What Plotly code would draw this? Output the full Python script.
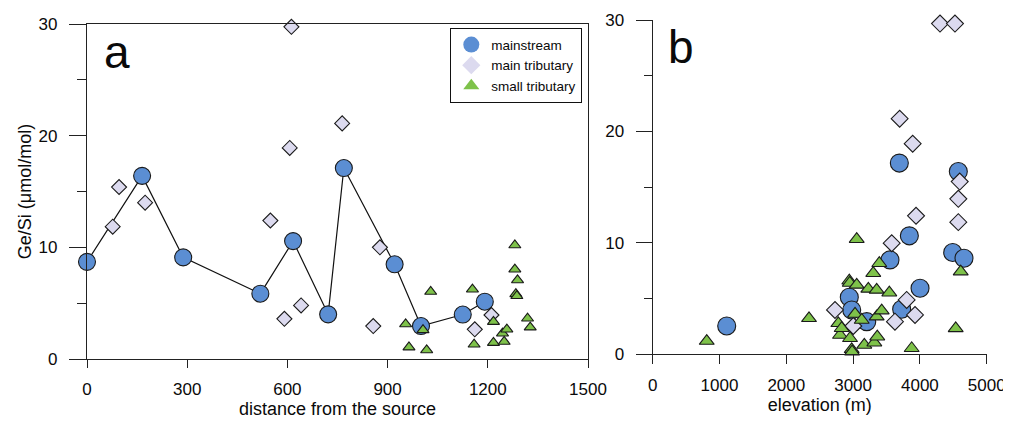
import plotly.graph_objects as go

# ---------------- panel a: distance from the source ----------------
main_dist = [0, 165, 288, 519, 617, 722, 769, 921, 1000, 1125, 1191]
main_ratio = [8.7, 16.4, 9.1, 5.85, 10.56, 4.0, 17.1, 8.48, 2.95, 3.98, 5.13]

trib_dist = [77, 96, 174, 549, 591, 607, 612, 641, 764, 857, 877, 1161, 1211]
trib_ratio = [11.85, 15.4, 14.0, 12.4, 3.6, 18.9, 29.75, 4.8, 21.1, 2.95, 10.0, 2.66, 3.94]

small_dist = [954, 964, 1006, 1017, 1029, 1154, 1159, 1217, 1217, 1244, 1249, 1257,
              1281, 1281, 1289, 1284, 1287, 1319, 1327]
small_ratio = [3.13, 1.05, 2.6, 0.8, 6.03, 6.24, 1.31, 3.34, 1.46, 2.3, 1.55, 2.66,
               10.2, 8.03, 7.07, 5.82, 5.65, 3.64, 2.84]

# ---------------- panel b: elevation ----------------
main_elev = [1108, 2943, 2979, 3204, 3552, 3692, 3727, 3842, 4002, 4491, 4575, 4660]
main_ratio_b = [2.54, 5.12, 3.98, 2.93, 8.47, 17.16, 4.04, 10.63, 5.93, 9.13, 16.4, 8.62]

trib_elev = [2729, 3003, 3578, 3627, 3697, 3802, 3892, 3927, 3942, 4301, 4525, 4575, 4575, 4596]
trib_ratio_b = [3.98, 2.54, 9.97, 2.93, 21.14, 4.88, 18.9, 3.53, 12.43, 29.68, 29.68, 13.95, 11.86, 15.5]

small_elev = [809, 2340, 2779, 2804, 2829, 2943, 2950, 2954, 2979, 2985, 3029, 3054, 3054,
              3129, 3168, 3228, 3302, 3318, 3353, 3353, 3362, 3392, 3428, 3542, 3877, 4536, 4611]
small_ratio_b = [1.19, 3.23, 2.78, 1.73, 2.34, 6.6, 6.4, 1.44, 0.45, 0.24, 3.62, 10.33, 6.23,
                 3.08, 0.84, 5.87, 7.28, 1.04, 3.38, 5.78, 1.58, 8.17, 3.92, 5.53, 0.54, 2.33, 7.42]

series_names = ["mainstream", "main tributary", "small tributary"]

C_MAIN = "#5B8ED3"
C_TRIB = "#DCDAEF"
C_SMALL = "#7EC24A"
EDGE = "#1a1a1a"
AX = "#222222"
TXT = "#0a0a0a"
FONT = "Liberation Sans, Arial, sans-serif"

fig = go.Figure()

def mk(symbol, size, color):
    return dict(symbol=symbol, size=size, color=color, line=dict(color=EDGE, width=1.1))

# panel a
fig.add_trace(go.Scatter(x=main_dist, y=main_ratio, mode="lines+markers",
                         line=dict(color="#111111", width=1.2),
                         marker=mk("circle", 17, C_MAIN), showlegend=False,
                         cliponaxis=False, xaxis="x", yaxis="y"))
fig.add_trace(go.Scatter(x=trib_dist, y=trib_ratio, mode="markers",
                         marker=mk("diamond", 11.5, C_TRIB), showlegend=False,
                         cliponaxis=False, xaxis="x", yaxis="y"))
fig.add_trace(go.Scatter(x=small_dist, y=small_ratio, mode="markers",
                         marker=mk("triangle-up", 10.5, C_SMALL), showlegend=False,
                         cliponaxis=False, xaxis="x", yaxis="y"))

# panel b
fig.add_trace(go.Scatter(x=main_elev, y=main_ratio_b, mode="markers",
                         marker=mk("circle", 18, C_MAIN), showlegend=False,
                         cliponaxis=False, xaxis="x2", yaxis="y2"))
fig.add_trace(go.Scatter(x=trib_elev, y=trib_ratio_b, mode="markers",
                         marker=mk("diamond", 13, C_TRIB), showlegend=False,
                         cliponaxis=False, xaxis="x2", yaxis="y2"))
fig.add_trace(go.Scatter(x=small_elev, y=small_ratio_b, mode="markers",
                         marker=mk("triangle-up", 13, C_SMALL), showlegend=False,
                         cliponaxis=False, xaxis="x2", yaxis="y2"))

# legend entries (symbols without outline, as in the reference)
for name, sym, col in zip(series_names, ["circle", "diamond", "triangle-up"],
                          [C_MAIN, C_TRIB, C_SMALL]):
    fig.add_trace(go.Scatter(x=[None], y=[None], mode="markers", name=name,
                             marker=dict(symbol=sym, size=16 if sym == "circle" else 14,
                                         color=col, line=dict(width=0)),
                             xaxis="x", yaxis="y"))

# the page body adds an 8px margin, so the figure is laid out 8px smaller
OFF = 8
W, H = 1011 - OFF, 421 - OFF
def px_x(p):
    return (p - OFF) / W
def px_y(p):
    return 1 - (p - OFF) / H

common_axis = dict(showline=True, linecolor=AX, linewidth=1.3, ticks="outside",
                   tickcolor=AX, tickwidth=1.3, showgrid=False, zeroline=False,
                   automargin=False,
                   tickfont=dict(family=FONT, size=17, color=TXT))

fig.update_layout(
    width=W, height=H, margin=dict(l=0, r=0, t=0, b=0, autoexpand=False),
    paper_bgcolor="white", plot_bgcolor="white",
    font=dict(family=FONT, color=TXT),
    xaxis=dict(common_axis, domain=[px_x(87), px_x(588)], range=[0, 1500],
               tickvals=[0, 300, 600, 900, 1200, 1500], ticklen=8, mirror=True,
               anchor="y", ticklabelstandoff=6,
               title=dict(text="distance from the source", standoff=4,
                          font=dict(family=FONT, size=18))),
    yaxis=dict(common_axis, domain=[px_y(359), px_y(24)], range=[0, 30],
               tickvals=[0, 10, 20, 30], ticklen=17, mirror=True, anchor="x",
               ticklabelstandoff=8,
               minor=dict(tickvals=[5, 15, 25], ticklen=9, ticks="outside",
                          tickcolor=AX, tickwidth=1.3),
               title=dict(text="Ge/Si (μmol/mol)", standoff=2,
                          font=dict(family=FONT, size=18))),
    xaxis2=dict(common_axis, domain=[px_x(652.7), px_x(986.7)], range=[0, 5000],
                tickvals=[0, 1000, 2000, 3000, 4000, 5000], ticklen=9, anchor="y2",
                ticklabelstandoff=6,
                title=dict(text="elevation (m)", standoff=4,
                           font=dict(family=FONT, size=18))),
    yaxis2=dict(common_axis, domain=[px_y(354.3), px_y(20)], range=[0, 30],
                tickvals=[0, 10, 20, 30], ticklen=16, anchor="x2",
                ticklabelstandoff=8,
                minor=dict(tickvals=[5, 15, 25], ticklen=8, ticks="outside",
                           tickcolor=AX, tickwidth=1.3)),
    legend=dict(x=px_x(582), y=px_y(28), xanchor="right", yanchor="top",
                bgcolor="white", bordercolor="#111111", borderwidth=1.3,
                font=dict(family=FONT, size=13.5, color=TXT),
                tracegroupgap=0, itemwidth=30),
    annotations=[
        dict(text="a", x=px_x(117), y=px_y(52), xref="paper", yref="paper",
             showarrow=False, xanchor="center", yanchor="middle",
             font=dict(family=FONT, size=46, color=TXT)),
        dict(text="b", x=px_x(681), y=px_y(47), xref="paper", yref="paper",
             showarrow=False, xanchor="center", yanchor="middle",
             font=dict(family=FONT, size=46, color=TXT)),
    ],
)

fig.write_html("out.html")
